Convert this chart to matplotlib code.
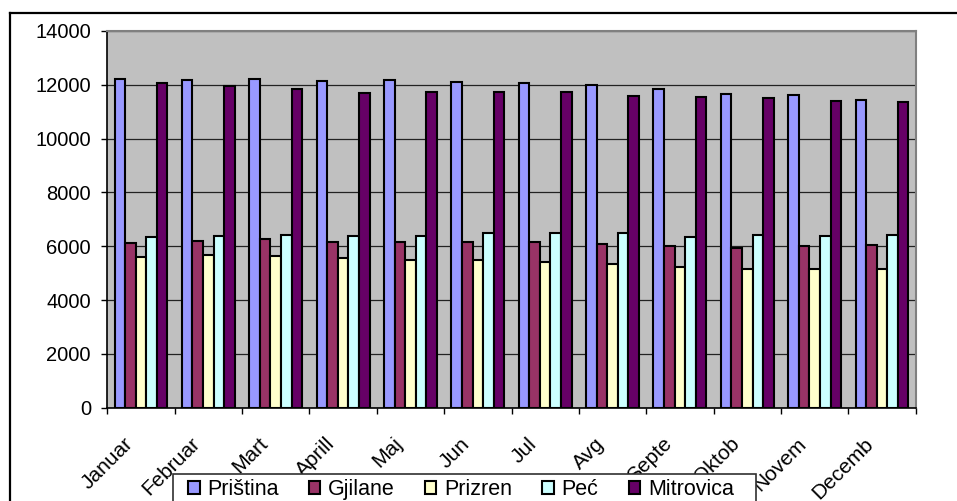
import numpy as np
import matplotlib
matplotlib.use("Agg")
import matplotlib.pyplot as plt
from matplotlib.lines import Line2D
from matplotlib.patches import Rectangle
from matplotlib.transforms import ScaledTranslation

plt.rcParams["font.family"] = ["Liberation Sans", "DejaVu Sans"]

# Data
months = ["Januar", "Februar", "Mart", "Aprill", "Maj", "Jun",
          "Jul", "Avg", "Septe", "Oktob", "Novem", "Decemb"]
pristina = [12210, 12190, 12230, 12160, 12190, 12090, 12070, 12000, 11860, 11660, 11640, 11450]
gjilane = [6110, 6210, 6260, 6170, 6150, 6170, 6170, 6080, 6010, 5950, 6000, 6060]
prizren = [5610, 5660, 5630, 5550, 5500, 5480, 5420, 5350, 5220, 5140, 5170, 5170]
pec = [6360, 6390, 6410, 6370, 6370, 6480, 6480, 6480, 6340, 6410, 6380, 6420]
mitrovica = [12070, 11960, 11850, 11700, 11720, 11750, 11720, 11570, 11550, 11520, 11410, 11360]

series = [("Priština", pristina, "#9999FF"),
          ("Gjilane", gjilane, "#993366"),
          ("Prizren", prizren, "#FFFFCC"),
          ("Peć", pec, "#CCFFFF"),
          ("Mitrovica", mitrovica, "#660066")]

W, H = 957, 501
fig = plt.figure(figsize=(W / 100, H / 100), dpi=100)
ax = fig.add_axes([107.3 / W, 1 - 407.7 / H, (915.7 - 107.3) / W, (407.7 - 31) / H])
ax.set_facecolor("#C0C0C0")

x = np.arange(len(months))
w = 0.157
bars = []
for i, (name, vals, col) in enumerate(series):
    b = ax.bar(x + (i - 2) * w, vals, width=w, color=col, edgecolor="black",
               linewidth=1.5, label=name, zorder=3)
    bars.append(b)

ax.set_xlim(-0.5, len(months) - 0.5)
ax.set_ylim(0, 14000)
ax.set_yticks(np.arange(0, 14001, 2000))
ax.yaxis.grid(True, color="#222222", linewidth=0.9, zorder=1)
ax.tick_params(axis="y", direction="out", length=4.3, width=1, pad=7.5, labelsize=14.5)

# category boundaries carry the ticks, labels sit at the centres
ax.set_xticks(np.arange(len(months) + 1) - 0.5)
ax.set_xticklabels([])
ax.tick_params(axis="x", which="major", direction="out", length=4.3, width=1)
ax.set_xticks(x, months, minor=True)
ax.tick_params(axis="x", which="minor", length=0, pad=19, labelsize=15)
shift = ScaledTranslation(-4.5 / 100, 0, fig.dpi_scale_trans)
for lbl in ax.get_xticklabels(minor=True):
    lbl.set_rotation(45)
    lbl.set_ha("right")
    lbl.set_va("top")
    lbl.set_transform(lbl.get_transform() + shift)

for s in ["left", "bottom"]:
    ax.spines[s].set_color("black")
    ax.spines[s].set_linewidth(1.2)
for s in ["top", "right"]:
    ax.spines[s].set_color("#808080")
    ax.spines[s].set_linewidth(1.5)

# legend box, cut off by the bottom edge like in the original
fig.add_artist(Rectangle((173 / W, -0.05), (756 - 173) / W, 0.05 + (H - 474) / H,
                         transform=fig.transFigure, facecolor="white",
                         edgecolor="#303030", linewidth=1.2, zorder=9))
leg = fig.legend(bars, [s[0] for s in series], loc="upper left",
                 bbox_to_anchor=(184 / W, 1 - 475 / H), ncol=5, fontsize=15.5,
                 handlelength=0.52, handleheight=0.52, handletextpad=0.37,
                 columnspacing=1.4, borderpad=0.2, borderaxespad=0,
                 frameon=False)
leg.set_zorder(10)
for h in leg.legend_handles:
    h.set_linewidth(1.5)

# outer chart border (runs off the right and bottom edges)
fig.add_artist(Line2D([9.5 / W, 9.5 / W], [0, 1 - 13 / H],
                      transform=fig.transFigure, color="black", linewidth=1.6))
fig.add_artist(Line2D([9.5 / W, 1], [1 - 13 / H, 1 - 13 / H],
                      transform=fig.transFigure, color="black", linewidth=1.6))

fig.savefig("out.png", dpi=100)
